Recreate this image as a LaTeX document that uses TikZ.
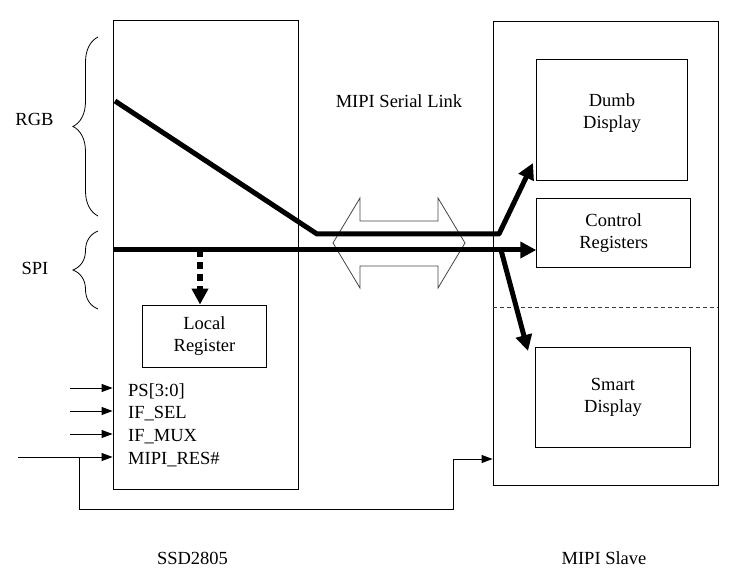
\documentclass[tikz,border=0pt]{standalone}
\usepackage{fontspec}
\setmainfont{Liberation Serif}
\usetikzlibrary{calc, arrows.meta, decorations.pathreplacing}
\tikzset{>=latex}
\definecolor{mygray1}{RGB}{70, 70, 70}
\definecolor{mygray2}{RGB}{60, 60, 60}
\tikzset{
  box/.style = {draw, line width = 0.9pt, inner sep = 0pt, align = center},
  txt/.style = {font = \fontsize{18.5}{22}\selectfont, inner sep = 0pt, align = center},
  bus/.style = {line width = 5pt, -{Triangle[length = 16pt, width = 16pt]}},
  sig/.style = {line width = 0.9pt, -{Triangle[length = 11pt, width = 8pt]}},
  brc/.style = {decorate, decoration = {brace, amplitude = 25pt}, line width = 0.8pt}
}

\begin{document}
\begin{tikzpicture}[x = 1pt, y = -1pt]
\useasboundingbox (0,0) rectangle (755,585);
% the two chips
\node[box, minimum width = 185pt, minimum height = 469pt] (ssd) at (205.5, 254.5) {};
\node[box, minimum width = 225pt, minimum height = 464pt] (slave) at (605.5, 253) {};
\node[box, minimum width = 151pt, minimum height = 121pt] (dumb) at (612, 120) {};
\node[txt] (dumbtxt) at (612, 113) {Dumb\\Display};
\node[box, txt, minimum width = 154pt, minimum height = 69pt] (ctrl) at (613.7, 232.8) {Control\\Registers};
\node[box, txt, minimum width = 155pt, minimum height = 100pt] (smart) at (613, 397) {Smart\\Display};
\node[box, txt, minimum width = 124pt, minimum height = 62pt] (local) at (204.5, 336) {Local\\Register};
\draw[dash pattern = on 4pt off 3pt, mygray2, line width = 0.8pt] (slave.west |- 0,307) -- (slave.east |- 0,307);
% serial link
\draw[mygray1, line width = 0.8pt] (333,243) -- (360,198) -- (360,221) -- (438,221) -- (438,198) -- (465,243)
  -- (438,288) -- (438,266) -- (360,266) -- (360,288) -- cycle;
\node[txt] (link) at (399, 101) {MIPI Serial Link};
% buses
\coordinate (rgbin) at (115, 101);
\coordinate (rgbbend) at (317, 234);
\coordinate (rgbfork) at (499, 234);
\coordinate (dumbin) at (533, 163);
\coordinate (spiin) at (113, 250);
\coordinate (spifork) at (501, 250);
\coordinate (smartin) at (528, 351);
\coordinate (spitap) at (200, 250);
\draw[bus, line join = round] (rgbin) -- (rgbbend) -- (rgbfork) -- (dumbin);
\draw[bus] (spiin) -- (ctrl.west |- spiin);
\draw[bus] (spifork) -- (smartin);
\draw[bus, line width = 6pt, dash pattern = on 7pt off 5pt] (spitap) -- (local.north -| spitap);
% braces
\draw[brc] (98,216) -- (98,37);
\draw[brc] (98,309) -- (98,231);
\node[txt] (rgb) at (34.5, 119) {RGB};
\node[txt] (spi) at (35, 268) {SPI};
% pins
\foreach \y/\x/\lab/\nm in {388/70/{PS[3:0]}/ps, 411/70/{IF\_SEL}/ifsel, 434/70/{IF\_MUX}/ifmux, 457/18/{MIPI\_RES\#}/res}{
\node[txt, anchor = west] (\nm) at (128, \y+3) {\lab};
\coordinate (\nm src) at (\x, \y);
\draw[sig] (\nm src) -- (ssd.west |- \nm src);
}
\coordinate (tap) at (79, 457);
\draw[sig] (tap) -- ++(0,52) -| (453,459) -- (slave.west |- 0,459);
\node[txt] (ssdname) at (192.5, 558) {SSD2805};
\node[txt] (slavename) at (604, 558) {MIPI Slave};
\end{tikzpicture}
\end{document}
